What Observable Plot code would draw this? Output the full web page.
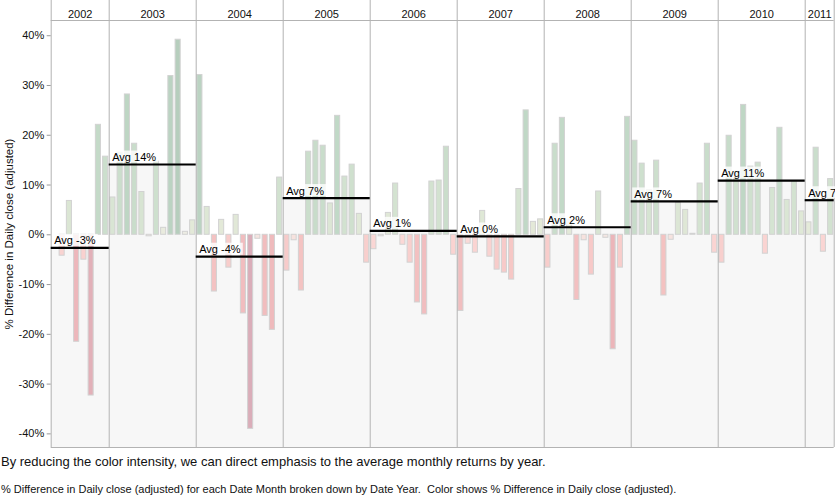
<!DOCTYPE html>
<html>
<head>
<meta charset="utf-8">
<script src="https://cdn.jsdelivr.net/npm/d3@7"></script>
<script src="https://cdn.jsdelivr.net/npm/@observablehq/plot@0.6"></script>
<style>
  html, body { margin: 0; padding: 0; background: white; }
  #wrap { position: relative; width: 835px; height: 496px; overflow: hidden; }
  .cap1 { position: absolute; left: 1px; top: 454px; font: 13px "Liberation Sans", Arial, sans-serif; line-height: 16px; color: #111; white-space: nowrap; }
  .cap2 { position: absolute; left: 1px; top: 483px; font: 11px "Liberation Sans", Arial, sans-serif; line-height: 12px; color: #111; white-space: nowrap; }
</style>
</head>
<body>
<div id="wrap">
  <div id="chart"></div>
  <div class="cap1">By reducing the color intensity, we can direct emphasis to the average monthly returns by year.</div>
  <div class="cap2">% Difference in Daily close (adjusted) for each Date Month broken down by Date Year.&nbsp; Color shows % Difference in Daily close (adjusted).</div>
</div>
<script>
// Monthly % difference in daily close (adjusted)
const years = [2002, 2003, 2004, 2005, 2006, 2007, 2008, 2009, 2010, 2011];
const r2002 = [null, -4.2, 6.8, -21.5, -5.0, -32.3, 22.1, 15.7];
const r2003 = [7.5, 16.5, 28.2, 18.3, 8.6, -0.3, 14.7, 1.4, 31.9, 39.2, 0.6, 2.9];
const r2004 = [32.1, 5.6, -11.4, 3.0, -6.6, 4.0, -15.8, -39.0, -0.8, -16.3, -19.1, 11.5];
const r2005 = [-7.2, -1.1, -11.2, 16.7, 18.9, 17.9, 6.3, 23.9, 11.7, 14.1, 4.2, -5.6];
const r2006 = [-2.9, -0.3, 4.4, 10.3, -2.0, -5.6, -13.6, -16.0, 10.7, 10.9, 17.7, -4.0];
const r2007 = [-15.3, -1.8, -3.6, 4.8, -4.4, -7.0, -7.6, -9.0, 9.2, 25.0, 2.6, 3.1];
const r2008 = [-6.6, 18.3, 23.5, 3.0, -13.1, -1.1, -8.0, 8.7, -0.6, -23.0, -6.6, 23.7];
const r2009 = [18.9, 14.3, 9.0, 14.9, -12.2, -1.0, 6.4, 5.0, 0.2, 10.3, 18.3, -3.6];
const r2010 = [-5.6, 19.9, 12.7, 26.1, 13.7, 14.5, -3.8, 9.4, 21.5, 7.0, 10.7, 4.7];
const r2011 = [2.5, 17.5, -3.4, 11.2];
const series = [r2002, r2003, r2004, r2005, r2006, r2007, r2008, r2009, r2010, r2011];
const yTicks = [-40, -30, -20, -10, 0, 10, 20, 30, 40];
const yLabel = "% Difference in Daily close (adjusted)";
const yDomain = [-42.74, 43.06];

// Build tables
const bars = [];
const yearRows = [];
let offset = 0;
series.forEach((vals, k) => {
  const valid = vals.filter(v => v != null);
  yearRows.push({year: years[k], start: offset, end: offset + vals.length, avg: d3.mean(valid)});
  vals.forEach((v, j) => { if (v != null) bars.push({i: offset + j, v, year: years[k]}); });
  offset += vals.length;
});
const boundaries = yearRows.map(d => d.start).concat([offset]);

const chart = Plot.plot({
  width: 835,
  height: 448,
  marginLeft: 50.7,
  marginRight: 1.3,
  marginTop: 20,
  marginBottom: 1,
  x: {domain: [0, offset], axis: null},
  y: {domain: yDomain, axis: null},
  color: {
    type: "linear",
    domain: [-40, -25, -10, -2, 0, 2, 10, 25, 40],
    range: ["#d9adb9", "#ebb3b8", "#f5c4c3", "#fbd8d6", "#f1eee8", "#e5ead9", "#d4e3d1", "#c0d8c6", "#b5cdbd"],
    clamp: true
  },
  style: {fontFamily: "Arial, 'Liberation Sans', sans-serif", fontSize: "11px", background: "white", overflow: "hidden"},
  marks: [
    Plot.rect(yearRows, {x1: "start", x2: "end", y1: yDomain[0], y2: "avg", fill: "#f7f7f7"}),
    Plot.rect(bars, {x1: d => d.i + 0.16, x2: d => d.i + 0.86, y1: 0, y2: "v", fill: "v", stroke: "#d2d2d2", strokeWidth: 1}),
    Plot.ruleX(boundaries, {x: d => d, stroke: "#b3b3b3", strokeWidth: 1, insetTop: -20}),
    Plot.ruleY([yDomain[1]], {stroke: "#b3b3b3"}),
    Plot.ruleY([yDomain[0]], {stroke: "#b3b3b3"}),
    Plot.ruleY(yearRows, {x1: "start", x2: "end", y: "avg", stroke: "black", strokeWidth: 2.2}),
    Plot.text(yearRows, {x: "start", y: "avg", text: d => `Avg ${Math.round(d.avg)}%`, textAnchor: "start", dx: 3, dy: -7, fill: "black", fontSize: 11, className: "avglabel"}),
    Plot.text(yearRows, {x: d => (d.start + d.end) / 2, frameAnchor: "top", dy: -10, text: d => String(d.year), fill: "#111", fontSize: 11}),
    Plot.axisY({ticks: yTicks, tickFormat: d => d + "%", tickSize: 4, tickPadding: 3, label: null, stroke: "#999", fontSize: 11, fill: "#111"}),
    Plot.text([yLabel], {frameAnchor: "left", textAnchor: "middle", dx: -41.7, rotate: -90, text: d => d, fill: "#111", fontSize: 11.5})
  ]
});

document.getElementById("chart").appendChild(chart);

// white translucent boxes behind the average labels
chart.querySelectorAll("g.avglabel text").forEach(t => {
  const b = t.getBBox();
  const r = document.createElementNS("http://www.w3.org/2000/svg", "rect");
  r.setAttribute("x", b.x - 2);
  r.setAttribute("y", b.y - 0.5);
  r.setAttribute("width", b.width + 4);
  r.setAttribute("height", b.height);
  r.setAttribute("fill", "white");
  r.setAttribute("fill-opacity", "0.8");
  const tr = t.getAttribute("transform");
  if (tr) r.setAttribute("transform", tr);
  t.parentNode.insertBefore(r, t);
});
</script>
</body>
</html>
